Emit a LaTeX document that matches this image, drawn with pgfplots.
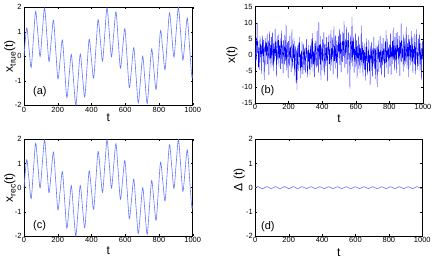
\documentclass[border=0pt]{standalone}
\usepackage{fontspec}
\setmainfont{Liberation Sans}
\usepackage{pgfplots}
\usepackage{pgfplotstable}
\pgfplotsset{compat=1.18}
\definecolor{lineblue}{RGB}{100,120,255}
\newcommand{\sub}[1]{\raisebox{-0.45ex}{\fontsize{8.5}{8.5}\selectfont #1}}
\pgfplotsset{
  mystyle/.style={
    scale only axis, xmin=0, xmax=1000, xtick={0,200,400,600,800,1000},
    tick align=inside, major tick length=2pt, minor tick num=0,
    tick label style={font=\fontsize{7.5}{8}\selectfont},
    /pgf/number format/assume math mode=true,
    /pgf/number format/1000 sep={},
    scaled ticks=false,
    xticklabel style={anchor=base, yshift=-6.8pt, inner sep=0pt},
    yticklabel style={anchor=east, xshift=-2.3pt, inner sep=0pt},
    label style={font=\fontsize{12}{13}\selectfont},
    axis line style={line width=0.5pt},
    every tick/.style={black, line width=0.4pt},
    xlabel={t},
  }
}
\pgfplotstableread{
t x
0 0.00
16 1.156
29.225 0.357
42.45 -0.458
55.675 0.704
68.9 1.835
82.125 0.931
95.35 -0.014
108.575 0.999
121.8 1.969
135.025 0.898
148.25 -0.212
161.475 0.644
174.7 1.472
187.925 0.280
201.15 -0.924
214.375 -0.131
227.6 0.667
240.825 -0.520
254.05 -1.685
267.275 -0.821
280.5 0.079
293.725 -0.981
306.95 -2.000
320.175 -0.975
333.4 0.091
346.625 -0.804
359.85 -1.663
373.075 -0.494
386.3 0.695
399.525 -0.102
412.75 -0.894
425.975 0.309
439.2 1.498
452.425 0.666
465.65 -0.194
478.875 0.911
492.1 1.976
505.325 1.000
518.55 -0.019
531.775 0.919
545 1.818
558.225 0.682
571.45 -0.484
584.675 0.329
597.9 1.127
611.125 -0.080
624.35 -1.284
637.575 -0.476
650.8 0.353
664.025 -0.791
677.25 -1.900
690.475 -0.970
703.7 0.001
716.925 -0.985
730.15 -1.929
743.375 -0.833
756.6 0.300
769.825 -0.538
783.05 -1.353
796.275 -0.152
809.5 1.055
822.725 0.260
835.95 -0.547
849.175 0.627
862.4 1.775
875.625 0.888
888.85 -0.036
902.075 0.998
915.3 1.989
928.525 0.938
941.75 -0.154
954.975 0.718
968.2 1.560
981.425 0.377
994.65 -0.823
1000 -0.71
}\xtrue
\begin{document}
\begin{tikzpicture}
\useasboundingbox (0,0) rectangle (436pt,260pt);
% (a)
\begin{axis}[mystyle, at={(24pt,154.7pt)}, anchor=south west,
  width=168.7pt, height=98pt, ymin=-2, ymax=2, ytick={-2,-1,0,1,2},
  xlabel style={at={(axis description cs:0.5,0)}, anchor=base, yshift=-16pt},
  ylabel style={at={(axis description cs:-0.083,0.5)}, anchor=center},
  ylabel={x\sub{true}(t)}]
\addplot[lineblue, line width=0.6pt, smooth] table[x=t,y=x] {\xtrue};
\node[anchor=west, font=\fontsize{11}{12}\selectfont, inner sep=0pt] at (rel axis cs:0.053,0.14) {(a)};
\end{axis}
% (b)
\begin{axis}[mystyle, at={(255pt,157pt)}, anchor=south west,
  width=168pt, height=96.3pt, ymin=-15, ymax=15, ytick={-15,-10,-5,0,5,10,15},
  xlabel style={at={(axis description cs:0.5,0)}, anchor=base, yshift=-19pt},
  ylabel style={at={(axis description cs:-0.137,0.5)}, anchor=center},
  ylabel={x(t)}]
\addplot[blue, line width=0.3pt] coordinates {
(0,1.2)(2.5,-2.5)(5,3.1)(7.5,5.4)(10,-1.8)(12.5,10.0)(15,0.6)(17.5,4.2)(20,-3.9)(22.5,2.3)
(25,-4.6)(27.5,1.9)(30,5.8)(32.5,-0.7)(35,3.3)(37.5,-5.9)(40,2.8)(42.5,0.4)(45,6.1)(47.5,-2.2)
(50,4.7)(52.5,-1.3)(55,-7.9)(57.5,2.6)(60,0.9)(62.5,5.2)(65,-3.4)(67.5,3.8)(70,-0.2)(72.5,6.6)
(75,-2.9)(77.5,1.7)(80,4.4)(82.5,-6.2)(85,2.1)(87.5,7.3)(90,-1.1)(92.5,3.0)(95,-4.0)(97.5,5.5)
(100,0.8)(102.5,-3.2)(105,6.9)(107.5,2.4)(110,-5.1)(112.5,3.6)(115,1.0)(117.5,-2.0)(120,8.2)(122.5,-0.5)
(125,4.0)(127.5,-6.8)(130,2.2)(132.5,5.9)(135,-1.6)(137.5,0.3)(140,6.4)(142.5,-3.7)(145,2.9)(147.5,-0.9)
(150,5.1)(152.5,-4.4)(155,1.4)(157.5,7.6)(160,-2.7)(162.5,3.2)(165,-0.4)(167.5,-5.7)(170,4.6)(172.5,1.8)
(175,-3.0)(177.5,6.2)(180,0.1)(182.5,-1.9)(185,9.5)(187.5,-4.8)(190,2.0)(192.5,3.9)(195,-2.4)(197.5,-7.2)
(200,4.3)(202.5,0.7)(205,-3.6)(207.5,6.0)(210,-0.8)(212.5,2.5)(215,-5.3)(217.5,1.3)(220,7.9)(222.5,-2.1)
(225,-4.2)(227.5,3.4)(230,-1.0)(232.5,5.3)(235,-6.5)(237.5,0.2)(240,2.7)(242.5,-3.1)(245,-8.8)(247.5,1.6)
(250,-11.0)(252.5,2.9)(255,-2.6)(257.5,-5.0)(260,3.7)(262.5,-0.6)(265,5.6)(267.5,-4.1)(270,0.4)(272.5,-7.4)
(275,1.1)(277.5,-3.8)(280,4.1)(282.5,-2.3)(285,-6.0)(287.5,0.0)(290,3.5)(292.5,-4.7)(295,2.0)(297.5,-1.5)
(300,-5.5)(302.5,2.3)(305,-0.9)(307.5,4.9)(310,-3.3)(312.5,-7.0)(315,1.5)(317.5,-2.1)(320,3.0)(322.5,-4.5)
(325,0.6)(327.5,-6.3)(330,2.8)(332.5,-1.2)(335,5.0)(337.5,-3.9)(340,-0.3)(342.5,6.8)(345,-5.2)(347.5,1.0)
(350,-2.8)(352.5,3.6)(355,-6.9)(357.5,0.8)(360,4.4)(362.5,-1.7)(365,-4.0)(367.5,2.2)(370,7.5)(372.5,-3.4)
(375,1.9)(377.5,-5.6)(380,10.2)(382.5,-1.4)(385,3.1)(387.5,-3.0)(390,5.8)(392.5,-7.8)(395,0.5)(397.5,2.6)
(400,-2.0)(402.5,4.8)(405,-4.9)(407.5,1.2)(410,7.0)(412.5,-0.5)(415,-6.4)(417.5,3.3)(420,0.9)(422.5,-3.5)
(425,5.5)(427.5,-1.8)(430,2.4)(432.5,-8.3)(435,4.0)(437.5,0.1)(440,6.3)(442.5,-2.9)(445,1.7)(447.5,-5.0)
(450,3.8)(452.5,7.7)(455,-3.3)(457.5,2.0)(460,-0.6)(462.5,5.4)(465,-6.1)(467.5,1.4)(470,9.0)(472.5,-1.9)
(475,2.7)(477.5,-4.3)(480,6.0)(482.5,0.2)(485,-2.6)(487.5,4.5)(490,-7.5)(492.5,3.0)(495,1.1)(497.5,5.9)
(500,-1.0)(502.5,8.0)(505,-3.1)(507.5,2.6)(510,6.5)(512.5,-5.4)(515,0.7)(517.5,4.1)(520,-2.2)(522.5,7.2)
(525,3.3)(527.5,-0.4)(530,10.5)(532.5,1.6)(535,-4.0)(537.5,5.0)(540,2.0)(542.5,-2.8)(545,8.6)(547.5,0.9)
(550,4.6)(552.5,-6.0)(555,2.9)(557.5,7.0)(560,-1.3)(562.5,0.5)(565,-10.5)(567.5,3.7)(570,6.1)(572.5,-2.5)
(575,1.8)(577.5,11.8)(580,-3.6)(582.5,4.2)(585,-0.1)(587.5,5.7)(590,-5.5)(592.5,2.3)(595,-2.0)(597.5,6.6)
(600,-3.9)(602.5,1.0)(605,4.5)(607.5,-7.3)(610,2.7)(612.5,-1.0)(615,6.0)(617.5,-4.4)(620,0.6)(622.5,3.4)
(625,-5.8)(627.5,2.1)(630,-1.6)(632.5,9.2)(635,-3.2)(637.5,0.3)(640,4.0)(642.5,-6.6)(645,1.5)(647.5,-2.6)
(650,3.6)(652.5,-4.6)(655,0.8)(657.5,-8.0)(660,2.5)(662.5,-1.9)(665,5.1)(667.5,-3.5)(670,-6.2)(672.5,1.2)
(675,-2.4)(677.5,4.7)(680,-5.0)(682.5,0.0)(685,-9.5)(687.5,2.8)(690,-1.1)(692.5,3.9)(695,-4.9)(697.5,1.6)
(700,-6.7)(702.5,2.2)(705,-2.9)(707.5,5.6)(710,-0.8)(712.5,-4.4)(715,1.9)(717.5,-7.6)(720,3.1)(722.5,0.4)
(725,-3.8)(727.5,-10.0)(730,2.6)(732.5,-1.3)(735,4.4)(737.5,-5.3)(740,0.9)(742.5,-2.2)(745,6.0)(747.5,-4.1)
(750,1.0)(752.5,-6.4)(755,3.5)(757.5,-0.2)(760,-3.3)(762.5,5.2)(765,-1.8)(767.5,2.0)(770,-7.0)(772.5,0.6)
(775,4.1)(777.5,-2.6)(780,7.8)(782.5,-4.0)(785,1.3)(787.5,-0.7)(790,5.0)(792.5,-5.9)(795,2.4)(797.5,-1.2)
(800,3.2)(802.5,-3.7)(805,0.9)(807.5,6.7)(810,-6.3)(812.5,2.5)(815,-0.4)(817.5,4.3)(820,-2.8)(822.5,8.5)
(825,-1.5)(827.5,2.9)(830,-4.8)(832.5,5.5)(835,0.7)(837.5,-2.0)(840,6.8)(842.5,-5.6)(845,3.0)(847.5,1.1)
(850,7.1)(852.5,-3.0)(855,2.2)(857.5,-0.9)(860,5.9)(862.5,-6.6)(865,3.8)(867.5,0.4)(870,9.8)(872.5,-2.3)
(875,4.4)(877.5,-1.0)(880,1.9)(882.5,-5.2)(885,6.4)(887.5,2.7)(890,-3.6)(892.5,5.1)(895,0.0)(897.5,-2.7)
(900,8.8)(902.5,1.3)(905,-4.2)(907.5,3.6)(910,-0.5)(912.5,6.2)(915,-6.9)(917.5,2.4)(920,4.9)(922.5,-1.6)
(925,3.0)(927.5,-3.3)(930,7.4)(932.5,0.6)(935,-2.1)(937.5,5.3)(940,-5.7)(942.5,1.8)(945,-0.8)(947.5,6.5)
(950,-2.9)(952.5,4.0)(955,-6.1)(957.5,2.0)(960,7.9)(962.5,-1.4)(965,0.8)(967.5,-4.6)(970,3.4)(972.5,5.0)
(975,-3.4)(977.5,1.5)(980,6.3)(982.5,-5.0)(985,0.2)(987.5,3.7)(990,-7.7)(992.5,2.1)(995,-1.3)(997.5,4.4)
(1000,-2.0)};
\node[anchor=west, font=\fontsize{11}{12}\selectfont, inner sep=0pt] at (rel axis cs:0.034,0.125) {(b)};
\end{axis}
% (c)
\begin{axis}[mystyle, at={(24pt,24pt)}, anchor=south west,
  width=168.7pt, height=96.7pt, ymin=-2, ymax=2, ytick={-2,-1,0,1,2},
  xlabel style={at={(axis description cs:0.5,0)}, anchor=base, yshift=-18pt},
  ylabel style={at={(axis description cs:-0.083,0.5)}, anchor=center},
  ylabel={x\sub{rec}(t)}]
\addplot[lineblue, line width=0.6pt, smooth] table[x=t,y=x] {\xtrue};
\node[anchor=west, font=\fontsize{11}{12}\selectfont, inner sep=0pt] at (rel axis cs:0.053,0.11) {(c)};
\end{axis}
% (d)
\begin{axis}[mystyle, at={(255.3pt,24pt)}, anchor=south west,
  width=167pt, height=96.7pt, ymin=-2, ymax=2, ytick={-2,-1,0,1,2},
  xlabel style={at={(axis description cs:0.5,0)}, anchor=base, yshift=-20pt},
  ylabel style={at={(axis description cs:-0.096,0.58)}, anchor=center},
  ylabel={Δ (t)}]
\addplot[lineblue, line width=0.6pt, smooth] coordinates {
(0,0)(16,0.045)(29.225,0)(42.45,-0.045)(55.675,0)(68.9,0.045)(82.125,0)(95.35,-0.045)(108.575,0)(121.8,0.045)(135.025,0)(148.25,-0.045)(161.475,0)(174.7,0.045)(187.925,0)(201.15,-0.045)(214.375,0)(227.6,0.045)(240.825,0)(254.05,-0.045)(267.275,0)(280.5,0.045)(293.725,0)(306.95,-0.04)(320.175,0)(333.4,0.04)(346.625,0)(359.85,-0.04)(373.075,0)(386.3,0.04)(399.525,0)(412.75,-0.04)(425.975,0)(439.2,0.04)(452.425,0)(465.65,-0.04)(478.875,0)(492.1,0.04)(505.325,0)(518.55,-0.04)(531.775,0)(545,0.04)(558.225,0)(571.45,-0.04)(584.675,0)(597.9,0.04)(611.125,0)(624.35,-0.04)(637.575,0)(650.8,0.04)(664.025,0)(677.25,-0.04)(690.475,0)(703.7,0.04)(716.925,0)(730.15,-0.04)(743.375,0)(756.6,0.04)(769.825,0)(783.05,-0.04)(796.275,0)(809.5,0.04)(822.725,0)(835.95,-0.04)(849.175,0)(862.4,0.04)(875.625,0)(888.85,-0.04)(902.075,0)(915.3,0.04)(928.525,0)(941.75,-0.04)(954.975,0)(968.2,0.04)(981.425,0)(994.65,-0.04)(1000,-0.035)};
\node[anchor=west, font=\fontsize{11}{12}\selectfont, inner sep=0pt] at (rel axis cs:0.034,0.10) {(d)};
\end{axis}
\end{tikzpicture}
\end{document}
